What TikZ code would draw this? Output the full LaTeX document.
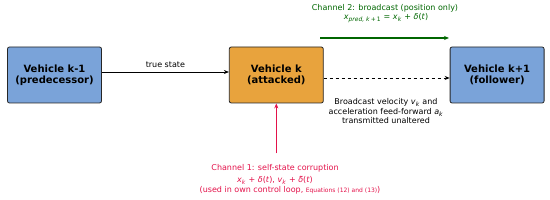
\documentclass[tikz,border=0pt]{standalone}
\usepackage{fontspec}
\setmainfont{DejaVu Sans}
\usetikzlibrary{arrows.meta, positioning, calc}
\definecolor{BoxBlue}{rgb}{0.48, 0.64, 0.85}
\definecolor{BoxOrange}{rgb}{0.91, 0.64, 0.24}
\definecolor{EdgeGray}{rgb}{0.15, 0.15, 0.15}
\definecolor{ChanGreen}{rgb}{0.0, 0.40, 0.0}
\definecolor{ChanRed}{rgb}{0.89, 0.07, 0.29}
\newcommand{\vi}[1]{\textit{#1}}

\begin{document}
\begin{tikzpicture}[
    x=1pt, y=1pt,
    font=\fontsize{8}{9.5}\selectfont,
    flow/.style={-{Stealth[length=5pt, width=4pt]}, line width=0.8pt, black},
    veh/.style={draw=EdgeGray, line width=0.8pt, rounded corners=2pt, align=center,
        minimum width=94pt, minimum height=56pt, inner sep=0pt,
        font=\fontsize{10}{11.5}\selectfont\bfseries},
    note/.style={align=center, inner sep=0pt},
]
\useasboundingbox (0,0) rectangle (550,200);

% vehiculos
\node[veh, fill=BoxBlue] (pred) at (54.5,125) {Vehicle k-1\\(predecessor)};
\node[veh, fill=BoxOrange, right=127pt of pred] (att) {Vehicle k\\(attacked)};
\node[veh, fill=BoxBlue, right=126pt of att] (foll) {Vehicle k+1\\(follower)};

% ================= estado real =================
\draw[flow] ([yshift=3pt]pred.east) -- node[above=4pt, note] (truelbl) {true state} ([yshift=3pt]att.west);

% ================= canal 2: broadcast =================
\draw[flow, dashed] ([yshift=-3pt]att.east) -- ([yshift=-3pt]foll.west);
\coordinate (g0) at (320,162);
\coordinate (g1) at (449,162);
\draw[flow, ChanGreen, line width=1.5pt] (g0) -- (g1);
\node[note, text=ChanGreen] (ch2) at (385,191.5) {Channel 2: broadcast (position only)};
\node[note, text=ChanGreen] (ch2eq) at (386,182)
    {\vi{x}\textsubscript{\vi{pred, k}\,+\,1} = \vi{x}\textsubscript{\vi{k}} + \vi{δ}(\vi{t})};
\node[note] (bcast) at (386,88.5)
    {Broadcast velocity \vi{v}\textsubscript{\vi{k}} and\\
     acceleration feed-forward \vi{a}\textsubscript{\vi{k}}\\
     transmitted unaltered};

% ================= canal 1: corrupcion propia =================
\coordinate (r0) at ($(att.south)+(0,-50)$);
\draw[flow, ChanRed, line width=1pt] (r0) -- (att.south);
\node[note, text=ChanRed] (ch1) at (275,32) {Channel 1: self-state corruption};
\node[note, text=ChanRed] (ch1eq) at (275,19.5)
    {\vi{x}\textsubscript{\vi{k}} + \vi{δ}(\vi{t}), \vi{v}\textsubscript{\vi{k}} + \~{\vi{δ}}(\vi{t})};
\node[note, text=ChanRed] (ch1use) at (290,10)
    {(used in own control loop, {\fontsize{6}{7}\selectfont Equations (12) and (13)})};

\end{tikzpicture}
\end{document}
